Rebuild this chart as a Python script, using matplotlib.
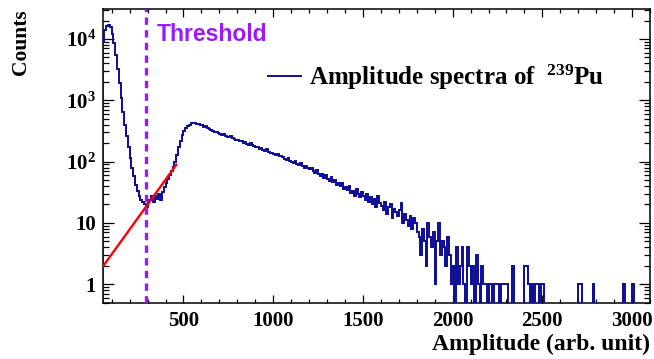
import matplotlib

matplotlib.use("Agg")
import matplotlib.pyplot as plt
import numpy as np
from matplotlib.ticker import FixedLocator, FuncFormatter, LogLocator, MultipleLocator, NullFormatter

# histogram binning (arb. unit)
BIN_LO = 50
BIN_WIDTH = 10

# counts per bin, one row = 100 units, starting at 50
counts = [
    9000, 14000, 16500, 17000, 15500, 12000, 8500, 5500, 3300, 1900,
    1100, 650, 400, 260, 170, 115, 80, 58, 42, 33,
    27, 24, 22, 20, 18, 21, 24, 28, 22, 27,
    25, 30, 24, 32, 38, 45, 52, 60, 70, 82,
    100, 130, 170, 220, 270, 320, 350, 380, 400, 420,
    430, 425, 410, 415, 400, 395, 370, 380, 350, 340,
    330, 315, 300, 305, 290, 285, 270, 280, 260, 255,
    250, 262, 240, 235, 228, 225, 215, 220, 205, 210,
    195, 190, 200, 185, 178, 175, 170, 162, 168, 155,
    150, 158, 145, 140, 138, 135, 128, 132, 122, 125,
    118, 112, 108, 115, 104, 100, 96, 102, 92, 88,
    94, 85, 80, 86, 78, 75, 80, 70, 66, 72,
    62, 58, 64, 55, 60, 52, 48, 56, 46, 50,
    42, 45, 40, 44, 36, 38, 34, 40, 31, 33,
    28, 36, 30, 26, 32, 27, 24, 30, 22, 26,
    20, 25, 18, 28, 21, 19, 16, 22, 14, 18,
    20, 12, 17, 15, 13, 16, 21, 10, 14, 11,
    9, 13, 8, 12, 10, 7, 6, 3, 8, 5,
    2, 10, 6, 4, 7, 1, 5, 10, 3, 5,
    4, 2, 6, 3, 1, 2, 0, 4, 1, 2,
    4, 1, 0, 4, 2, 1, 2, 0, 3, 1,
    0, 2, 1, 1, 0, 1, 1, 0, 1, 1,
    1, 0, 1, 1, 1, 1, 0, 0, 2, 0,
    0, 0, 0, 0, 0, 2, 2, 1, 0, 1,
    0, 1, 1, 0, 1, 1, 0, 0, 0, 0,
    0, 0, 0, 0, 0, 0, 0, 0, 0, 0,
    0, 0, 0, 0, 0, 1, 1, 0, 0, 0,
    0, 0, 0, 1, 0, 0, 0, 0, 0, 0,
    0, 0, 0, 0, 0, 0, 0, 0, 0, 0,
    1, 0, 0, 0, 0, 1, 0, 0, 0, 0,
    0, 0, 0, 0, 0,
]

# exponential fit exp(p0 + p1*x) and its range
FIT_P0 = 0.19
FIT_P1 = 0.00934
FIT_RANGE = (50, 460)

THRESHOLD = 290

X_RANGE = (50, 3100)
Y_RANGE = (0.5, 30500)
Y_MAJOR = [1, 10, 100, 1000, 10000]

HIST_COLOR = "#0c0c96"
VIOLET = "#9a1aff"

plt.rcParams["font.family"] = ["Liberation Serif", "DejaVu Serif"]
plt.rcParams["font.weight"] = "bold"
plt.rcParams["axes.labelweight"] = "bold"
plt.rcParams["mathtext.fontset"] = "custom"
plt.rcParams["mathtext.rm"] = "Liberation Serif:bold"
plt.rcParams["mathtext.bf"] = "Liberation Serif:bold"
plt.rcParams["mathtext.it"] = "Liberation Serif:bold:italic"
plt.rcParams["mathtext.default"] = "bf"


def log_label(v, pos):
    e = int(round(np.log10(v)))
    if e == 0:
        return "1"
    if e == 1:
        return "10"
    return "10$^{%d}$" % e


fig = plt.figure(figsize=(6.54, 3.59), dpi=100)
ax = fig.add_axes([102.7 / 654, 1 - 302.7 / 359, (650 - 102.7) / 654, (302.7 - 9.3) / 359])

vals = np.asarray(counts, dtype=float)
edges = BIN_LO + BIN_WIDTH * np.arange(vals.size + 1)
ax.stairs(vals, edges, baseline=0, color=HIST_COLOR, lw=1.4,
          label="Amplitude spectra of  $^{239}$Pu", zorder=3)

xf = np.linspace(FIT_RANGE[0], FIT_RANGE[1], 200)
ax.plot(xf, np.exp(FIT_P0 + FIT_P1 * xf), color="red", lw=1.7, zorder=4)

ax.axvline(THRESHOLD, color=VIOLET, lw=2.4, ls=(0, (2.2, 1.6)), zorder=5)
ax.text(THRESHOLD + 62, 0.955, "Threshold", color=VIOLET, fontsize=16.5,
        family=["Liberation Sans", "DejaVu Sans"], fontweight="bold",
        va="top", ha="left", transform=ax.get_xaxis_transform())

ax.set_yscale("log")
ax.set_xlim(*X_RANGE)
ax.set_ylim(*Y_RANGE)

ax.xaxis.set_major_locator(MultipleLocator(500))
ax.xaxis.set_minor_locator(MultipleLocator(100))
ax.yaxis.set_major_locator(FixedLocator(Y_MAJOR))
ax.yaxis.set_minor_locator(LogLocator(base=10, subs=np.arange(2, 10)))
ax.yaxis.set_major_formatter(FuncFormatter(log_label))
ax.yaxis.set_minor_formatter(NullFormatter())

ax.tick_params(which="both", direction="in", top=True, right=True, width=0.9,
               labelsize=15)
ax.tick_params(axis="x", which="major", length=6, pad=6)
ax.tick_params(axis="x", which="minor", length=3)
ax.tick_params(axis="y", which="major", length=8, pad=5)
ax.tick_params(axis="y", which="minor", length=4)
for s in ax.spines.values():
    s.set_linewidth(1.1)

ax.set_xlabel("Amplitude (arb. unit)", loc="right", fontsize=17,
              fontweight="bold", labelpad=2)
ax.set_ylabel("Counts", loc="top", fontsize=15.5, fontweight="bold", labelpad=25)

ax.legend(loc="center left", bbox_to_anchor=((268 - 102.7) / 547.3, (302.7 - 77.3) / 293.4),
          frameon=False, fontsize=18, handlelength=1.3, handletextpad=0.35,
          borderpad=0, borderaxespad=0)

fig.savefig("out.png", dpi=100)
